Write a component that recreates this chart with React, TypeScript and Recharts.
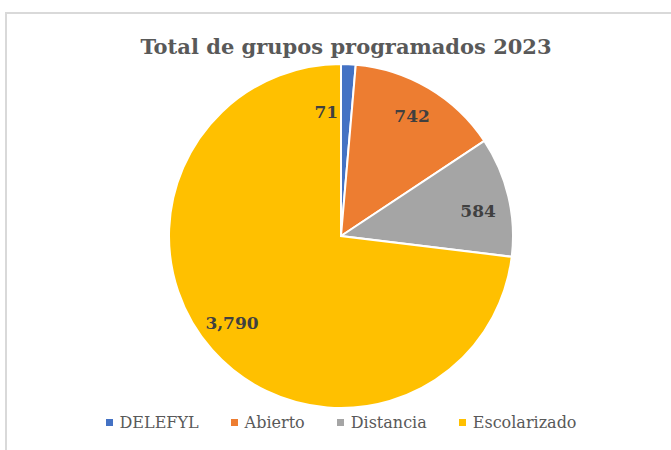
import React from 'react';
import { PieChart, Pie, Cell } from 'recharts';

const categories = ['DELEFYL', 'Abierto', 'Distancia', 'Escolarizado'];
const values = [71, 742, 584, 3790];
const colors = ['#4472c4', '#ed7d31', '#a5a5a5', '#ffc000'];

const data = categories.map((name, i) => ({ name, value: values[i] }));

const FONT = '"DejaVu Serif", serif';
const RAD = Math.PI / 180;

const renderLabel = (props: any) => {
  const { cx, cy, midAngle, outerRadius, value, index } = props;
  let r = outerRadius * 0.81;
  let angle = midAngle;
  let dx = 0;
  if (index === 0) {
    // tiny slice: Excel puts the label just left of it
    r = outerRadius * 0.72;
    dx = -20;
  } else if (index === 2) {
    angle = midAngle - 3;
  } else if (index === 3) {
    angle = midAngle - 3;
  }
  const x = cx + r * Math.cos(-angle * RAD) + dx;
  const y = cy + r * Math.sin(-angle * RAD);
  return (
    <text
      x={x}
      y={y}
      fill="#404040"
      fontFamily={FONT}
      fontWeight="bold"
      fontSize={17}
      textAnchor="middle"
      dominantBaseline="central"
    >
      {value.toLocaleString('en-US')}
    </text>
  );
};

export default function App() {
  return (
    <div style={{ position: 'absolute', left: 0, top: 0, width: 671, height: 450, background: '#fff', overflow: 'hidden' }}>
      <div
        style={{
          position: 'absolute',
          left: 5,
          top: 12,
          width: 700,
          height: 500,
          borderLeft: '2px solid #d9d9d9',
          borderTop: '2px solid #d9d9d9',
        }}
      />
      <div
        style={{
          position: 'absolute',
          left: 0,
          top: 34,
          width: 692,
          textAlign: 'center',
          fontFamily: FONT,
          fontWeight: 'bold',
          fontSize: 21,
          color: '#595959',
        }}
      >
        Total de grupos programados 2023
      </div>
      <PieChart
        width={671}
        height={450}
        margin={{ top: 0, right: 0, bottom: 0, left: 0 }}
        style={{ position: 'absolute', left: 0, top: 0 }}
      >
        <Pie
          data={data}
          dataKey="value"
          nameKey="name"
          cx={341}
          cy={236}
          outerRadius={172}
          startAngle={90}
          endAngle={-270}
          stroke="#ffffff"
          strokeWidth={2}
          label={renderLabel}
          labelLine={false}
          isAnimationActive={false}
        >
          {data.map((d, i) => (
            <Cell key={d.name} fill={colors[i]} />
          ))}
        </Pie>
      </PieChart>
      <div
        style={{
          position: 'absolute',
          left: 0,
          top: 413,
          width: 682,
          display: 'flex',
          justifyContent: 'center',
          fontFamily: FONT,
          fontSize: 16,
          color: '#595959',
        }}
      >
        {categories.map((c, i) => (
          <span key={c} style={{ display: 'flex', alignItems: 'center', margin: '0 16px' }}>
            <span style={{ width: 7, height: 7, background: colors[i], marginRight: 7 }} />
            {c}
          </span>
        ))}
      </div>
    </div>
  );
}
